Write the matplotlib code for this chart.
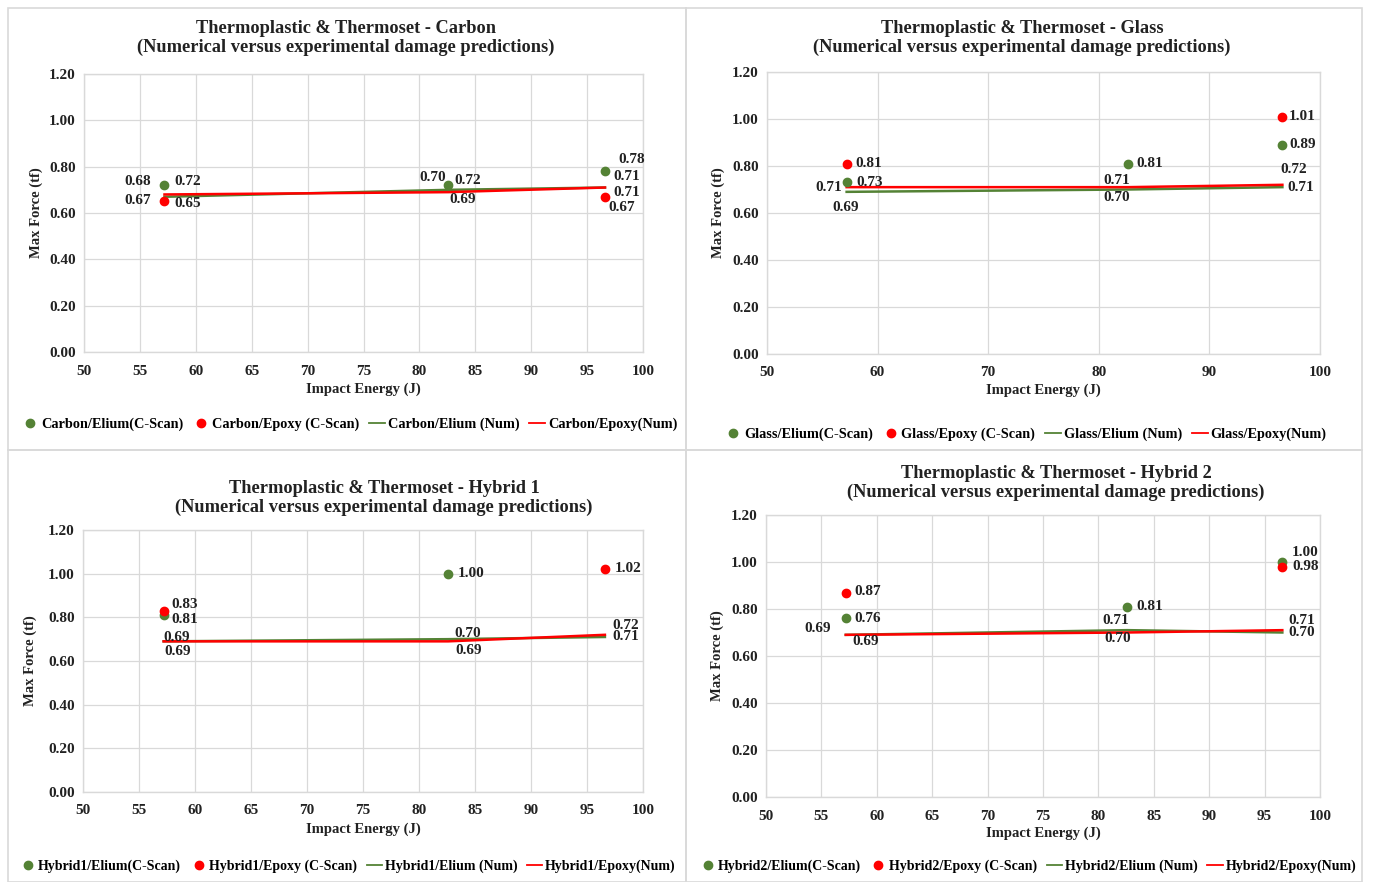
import matplotlib
matplotlib.use("Agg")
import matplotlib.pyplot as plt
from matplotlib.lines import Line2D
from matplotlib.patches import Rectangle
import numpy as np

plt.rcParams['font.family'] = ['Liberation Serif', 'DejaVu Serif']
plt.rcParams['font.weight'] = 'bold'

# impact energies (J)
energy = [57.2, 82.6, 96.6]
nan = np.nan

# Carbon
carbon_elium_scan = [0.72, 0.72, 0.78]
carbon_epoxy_scan = [0.65, nan, 0.67]
carbon_elium_num = [0.67, 0.70, 0.71]
carbon_epoxy_num = [0.68, 0.69, 0.71]

# Glass
glass_elium_scan = [0.73, 0.81, 0.89]
glass_epoxy_scan = [0.81, nan, 1.01]
glass_elium_num = [0.69, 0.70, 0.71]
glass_epoxy_num = [0.71, 0.71, 0.72]

# Hybrid 1
hyb1_elium_scan = [0.81, 1.00, nan]
hyb1_epoxy_scan = [0.83, nan, 1.02]
hyb1_elium_num = [0.69, 0.70, 0.71]
hyb1_epoxy_num = [0.69, 0.69, 0.72]

# Hybrid 2
hyb2_elium_scan = [0.76, 0.81, 1.00]
hyb2_epoxy_scan = [0.87, nan, 0.98]
hyb2_elium_num = [0.69, 0.71, 0.70]
hyb2_epoxy_num = [0.69, 0.70, 0.71]

names = ["Carbon", "Glass", "Hybrid 1", "Hybrid 2"]
legend_names = ["Carbon", "Glass", "Hybrid1", "Hybrid2"]
series = [
    (carbon_elium_scan, carbon_epoxy_scan, carbon_elium_num, carbon_epoxy_num),
    (glass_elium_scan, glass_epoxy_scan, glass_elium_num, glass_epoxy_num),
    (hyb1_elium_scan, hyb1_epoxy_scan, hyb1_elium_num, hyb1_epoxy_num),
    (hyb2_elium_scan, hyb2_epoxy_scan, hyb2_elium_num, hyb2_epoxy_num),
]

W, H = 1373, 882
fig = plt.figure(figsize=(W / 100, H / 100), dpi=100)

GREEN = "#548235"
RED = "#ff0000"
GRID = "#d9d9d9"
TXT = "#222222"

# layout in pixels: axes box (l, t, r, b), title center, xlabel y, legend y, ylabel x
layout = [
    dict(box=(84, 74, 643, 352), tx=346, ty=38, xl=389, lg=424, yl=36, step=5, lx=350),
    dict(box=(767, 72, 1320, 354), tx=1022, ty=38, xl=390, lg=434, yl=718, step=10, lx=1026),
    dict(box=(83, 530, 643, 792), tx=384, ty=498, xl=829, lg=866, yl=30, step=5, lx=348),
    dict(box=(766, 515, 1320, 797), tx=1056, ty=483, xl=833, lg=866, yl=717, step=5, lx=1028),
]

# label offsets in pixels (dx, dy) for each point of each series
offsets = [
    [[(23, 4), (19, 5), (27, 12)], [(23, -2), None, (17, -11)],
     [(-27, -4), (-16, 12), (22, -5)], [(-27, 13), (14, -7), (22, 11)]],
    [[(23, 0), (22, 0), (20, 0)], [(22, 0), None, (20, 0)],
     [(-1, -16), (-11, -8), (18, 0)], [(-18, 0), (-11, 7), (11, 15)]],
    [[(21, -4), (23, 0), None], [(21, 6), None, (23, 1)],
     [(13, 4), (20, 6), (21, 0)], [(14, -10), (21, -9), (21, 9)]],
    [[(22, 0), (23, 0), (23, 9)], [(22, 1), None, (23, 0)],
     [(-28, 6), (-11, 10), (19, 0)], [(20, -7), (-10, -6), (19, 10)]],
]

# panel frames
for (x0, y0, x1, y1) in [(8, 8, 686, 450), (686, 8, 1362, 450),
                         (8, 450, 686, 882), (686, 450, 1362, 882)]:
    fig.patches.append(Rectangle((x0 / W, 1 - y1 / H), (x1 - x0) / W, (y1 - y0) / H,
                                 transform=fig.transFigure, fill=False,
                                 edgecolor=GRID, linewidth=1.2))

for i, (name, lname, data, lay, offs) in enumerate(zip(names, legend_names, series, layout, offsets)):
    l, t, r, b = lay["box"]
    ax = fig.add_axes([l / W, 1 - b / H, (r - l) / W, (b - t) / H])
    elium_scan, epoxy_scan, elium_num, epoxy_num = data

    ax.plot(energy, elium_num, color=GREEN, lw=1.8, zorder=3)
    ax.plot(energy, epoxy_num, color=RED, lw=1.8, zorder=3)
    ax.scatter(energy, elium_scan, s=36, color=GREEN, zorder=4)
    ax.scatter(energy, epoxy_scan, s=36, color=RED, zorder=4)

    for vals, off in zip(data, offs):
        for x, v, o in zip(energy, vals, off):
            if o is None or np.isnan(v):
                continue
            ax.annotate(f"{v:.2f}", (x, v), xytext=o, textcoords="offset pixels",
                        ha="center", va="center", fontsize=11, fontweight="bold", color=TXT)

    ax.set_xlim(50, 100)
    ax.set_ylim(0, 1.2)
    ax.set_xticks(np.arange(50, 101, lay["step"]))
    ax.set_yticks(np.arange(0, 1.21, 0.2))
    ax.yaxis.set_major_formatter(matplotlib.ticker.FormatStrFormatter("%.2f"))
    ax.tick_params(length=0, labelsize=11, pad=6, colors=TXT)
    ax.tick_params(axis="x", pad=9)
    for lab in ax.get_xticklabels() + ax.get_yticklabels():
        lab.set_fontweight("bold")
    ax.grid(True, color=GRID, lw=0.9)
    ax.set_axisbelow(True)
    for s in ax.spines.values():
        s.set_color(GRID)
        s.set_linewidth(1.0)

    fig.text(lay["tx"] / W, 1 - lay["ty"] / H,
             f"Thermoplastic & Thermoset - {name}\n(Numerical versus experimental damage predictions)",
             ha="center", va="center", fontsize=13.2, fontweight="bold", linespacing=1.2,
             color=TXT)
    fig.text((l + r) / 2 / W, 1 - lay["xl"] / H, "Impact Energy (J)", ha="center", va="center",
             fontsize=10.5, fontweight="bold", color=TXT)
    fig.text(lay["yl"] / W, 1 - (t + b) / 2 / H, "Max Force (tf)", ha="center", va="center",
             rotation=90, fontsize=10.5, fontweight="bold", color=TXT)

    handles = [
        Line2D([], [], ls="none", marker="o", ms=6, color=GREEN),
        Line2D([], [], ls="none", marker="o", ms=6, color=RED),
        Line2D([], [], color=GREEN, lw=1.3),
        Line2D([], [], color=RED, lw=1.3),
    ]
    labels = [f"{lname}/Elium(C-Scan)", f"{lname}/Epoxy (C-Scan)",
              f"{lname}/Elium (Num)", f"{lname}/Epoxy(Num)"]
    fs = 10.3 if i < 2 else 10.0
    fig.legend(handles, labels, loc="center", bbox_to_anchor=(lay["lx"] / W, 1 - lay["lg"] / H),
               ncol=4, frameon=False, handlelength=1.1, handletextpad=0.2,
               columnspacing=0.7, prop=dict(size=fs, weight="bold"))

fig.savefig("out.png", dpi=100, facecolor="white")
